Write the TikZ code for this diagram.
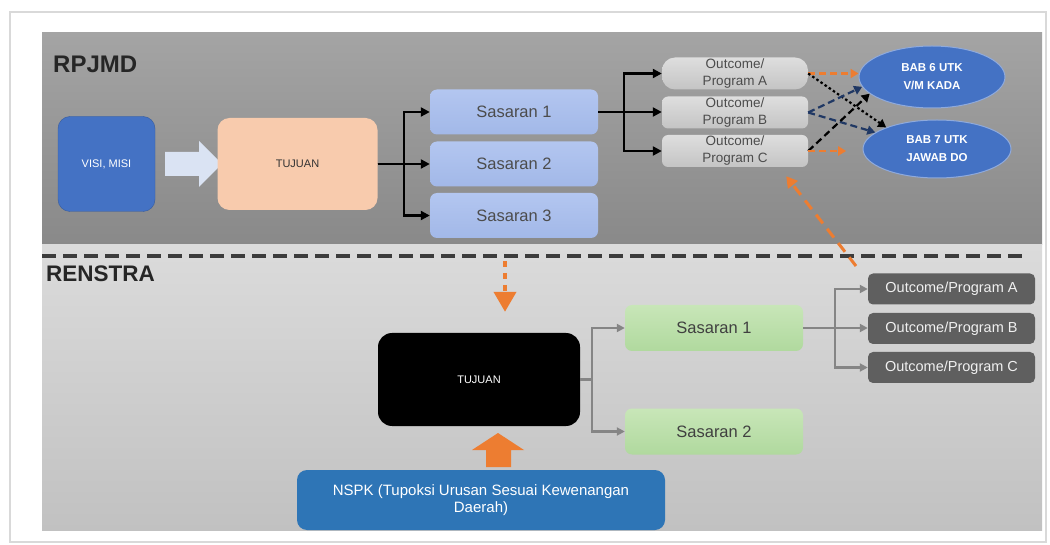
\documentclass[tikz,border=0pt]{standalone}
\usepackage{fontspec}
\setmainfont{Liberation Sans}
\usepackage{tikz}
\usetikzlibrary{arrows.meta,positioning,calc,shapes.geometric}

\definecolor{panelA}{HTML}{A4A4A4}
\definecolor{panelB}{HTML}{898989}
\definecolor{panelC}{HTML}{DBDBDB}
\definecolor{panelD}{HTML}{C1C1C1}
\definecolor{visiblue}{HTML}{4472C4}
\definecolor{peach}{HTML}{F8CBAD}
\definecolor{sasblue}{HTML}{B3C6F0}
\definecolor{sasblueB}{HTML}{A2B8E8}
\definecolor{outgray}{HTML}{DEDEDE}
\definecolor{outgrayB}{HTML}{C4C4C4}
\definecolor{orng}{HTML}{ED7D31}
\definecolor{navy}{HTML}{203864}
\definecolor{nspkblue}{HTML}{2E75B6}
\definecolor{sasgreen}{HTML}{C8E6B8}
\definecolor{sasgreenB}{HTML}{B0D99E}
\definecolor{darkout}{HTML}{5F5F5F}
\definecolor{lineg}{HTML}{858585}
\definecolor{arrblue}{HTML}{DAE3F3}
\definecolor{divgray}{HTML}{3C3C3C}

\begin{document}
\begin{tikzpicture}[x=1pt,y=-1pt,
  every node/.style={font=\fontsize{11}{13}\selectfont,inner sep=0pt},
  box/.style={rounded corners=7pt,align=center},
  bab/.style={ellipse,fill=visiblue,draw=visiblue!60!white,line width=1pt,text=white,
    font=\fontsize{11.5}{18}\selectfont\bfseries,align=center,minimum width=146pt,minimum height=62pt},
  blk/.style={line width=2.2pt,-{Triangle[length=9pt,width=9pt]}},
  gry/.style={draw=lineg,line width=2.2pt,-{Triangle[length=8pt,width=8pt]}},
  orarr/.style={orng,line width=2.2pt,dash pattern=on 7pt off 4pt,-{Triangle[length=8pt,width=9pt]}},
  navarr/.style={navy,line width=2.2pt,dash pattern=on 7pt off 4pt,-{Triangle[length=8pt,width=9pt]}},
  dkarr/.style={black,line width=2.2pt,dash pattern=on 7pt off 4pt,-{Triangle[length=8pt,width=9pt]}},
  dotarr/.style={black,line width=2.2pt,dash pattern=on 2.5pt off 2.5pt,-{Triangle[length=8pt,width=9pt]}},
  orlong/.style={orng,line width=3pt,dash pattern=on 11pt off 7pt,-{Triangle[length=11pt,width=12pt]}}]

  \useasboundingbox (0,0) rectangle (1050,545);
  \fill[white] (0,0) rectangle (1050,545);
  \draw[gray!30,line width=1.5pt] (10,12) rectangle (1046,542);
  \shade[top color=panelA,bottom color=panelB] (42,33) rectangle (1042,245);
  \shade[top color=panelC,bottom color=panelD] (42,245) rectangle (1042,530);
  \draw[divgray,line width=3.5pt,dash pattern=on 14pt off 7pt] (42,256) -- (1022,256);

  \node[anchor=west,font=\fontsize{24}{24}\selectfont\bfseries,text=black!85] (rpjmd) at (53,64) {RPJMD};
  \node[anchor=west,font=\fontsize{22.5}{24}\selectfont\bfseries,text=black!85] (renstra) at (46,274) {RENSTRA};

  \node[box,rounded corners=12pt,fill=visiblue,draw=visiblue!80!black,minimum width=97pt,minimum height=95pt,text=white] (visi) at (106.5,164) {VISI, MISI};
  \fill[arrblue] (165,152) -- (199,152) -- (199,141) -- (222,164) -- (199,187) -- (199,176) -- (165,176) -- cycle;
  \node[box,rounded corners=12pt,fill=peach,minimum width=160pt,minimum height=92pt,text=black!80] (tujA) at (297.5,164) {TUJUAN};

  \foreach \i/\y in {1/112,2/164,3/215.5}{
    \node[box,top color=sasblue,bottom color=sasblueB,minimum width=168pt,minimum height=45pt,
      font=\fontsize{16.5}{18}\selectfont,text=black!70] (sas\i) at (514,\y) {Sasaran \i};
  }
  \foreach \k/\y/\r in {A/73.5/13pt,B/112.5/6pt,C/151/6pt}{
    \node[box,rounded corners=\r,top color=outgray,bottom color=outgrayB,minimum width=146pt,minimum height=32pt,
      font=\fontsize{13.5}{17}\selectfont,text=black!70] (out\k) at (735,\y) {Outcome/\\Program \k};
  }
  \node[bab] (bab6) at (932,77) {BAB 6 UTK\\V/M KADA};
  \node[bab,minimum width=148pt,minimum height=58pt] (bab7) at (937,149) {BAB 7 UTK\\JAWAB DO};

  \draw[blk] (tujA.east) -- ++(26,0) |- (sas1.west);
  \draw[blk] (tujA.east) -- (sas2.west);
  \draw[blk] (tujA.east) -- ++(26,0) |- (sas3.west);
  \draw[blk] (sas1.east) -- ++(26,0) |- (outA.west);
  \draw[blk] (sas1.east) -- (sas1.east -| outB.west);
  \draw[blk] (sas1.east) -- ++(26,0) |- (outC.west);

  \draw[orarr] (outA.east) -- (outA.east -| bab6.west);
  \draw[dotarr] (outA.east) -- (bab7.157);
  \draw[navarr] (outB.east) -- (bab6.188);
  \draw[navarr] (outB.east) -- (bab7.165);
  \draw[dkarr] (outC.east) -- (bab6.195);
  \draw[orarr] (outC.east) -- ++(38,0);
  \coordinate (ortail) at (856,266);
  \draw[orlong] (ortail) -- ($(outC.south east)+(-22,9)$);

  \coordinate (dtop) at (505,261);
  \node[box,rounded corners=14pt,fill=black,minimum width=202pt,minimum height=93pt,text=white] (tujB) at (479,379.5) {TUJUAN};
  \draw[orng,line width=4pt,dash pattern=on 6pt off 6pt,-{Triangle[length=20pt,width=22pt]},shorten >=21pt] (dtop) -- (dtop |- tujB.north);
  \node[box,rounded corners=10pt,fill=nspkblue,minimum width=368pt,minimum height=60pt,text=white,
    font=\fontsize{15}{17}\selectfont] (nspk) at (481,500) {NSPK (Tupoksi Urusan Sesuai Kewenangan\\Daerah)};
  \fill[orng] (486,467) -- (486,450) -- (472,450) -- (498,433) -- (524,450) -- (511,450) -- (511,467) -- cycle;

  \foreach \i/\y in {1/328,2/431.5}{
    \node[box,top color=sasgreen,bottom color=sasgreenB,minimum width=178pt,minimum height=46pt,
      font=\fontsize{16.5}{18}\selectfont,text=black!75] (sasB\i) at (714,\y) {Sasaran \i};
  }
  \foreach \k/\y in {A/289,B/328.5,C/367.5}{
    \node[box,rounded corners=5pt,fill=darkout,minimum width=167pt,minimum height=31pt,
      font=\fontsize{14.5}{16}\selectfont,text=white!88!gray] (prog\k) at (951.5,\y) {Outcome/Program \k};
  }
  \draw[gry] (tujB.east) -- ++(12,0) |- (sasB1.west);
  \draw[gry] (tujB.east) -- ++(12,0) |- (sasB2.west);
  \draw[gry] (sasB1.east) -- ++(32,0) |- (progA.west);
  \draw[gry] (sasB1.east) -- (sasB1.east -| progB.west);
  \draw[gry] (sasB1.east) -- ++(32,0) |- (progC.west);
\end{tikzpicture}
\end{document}
